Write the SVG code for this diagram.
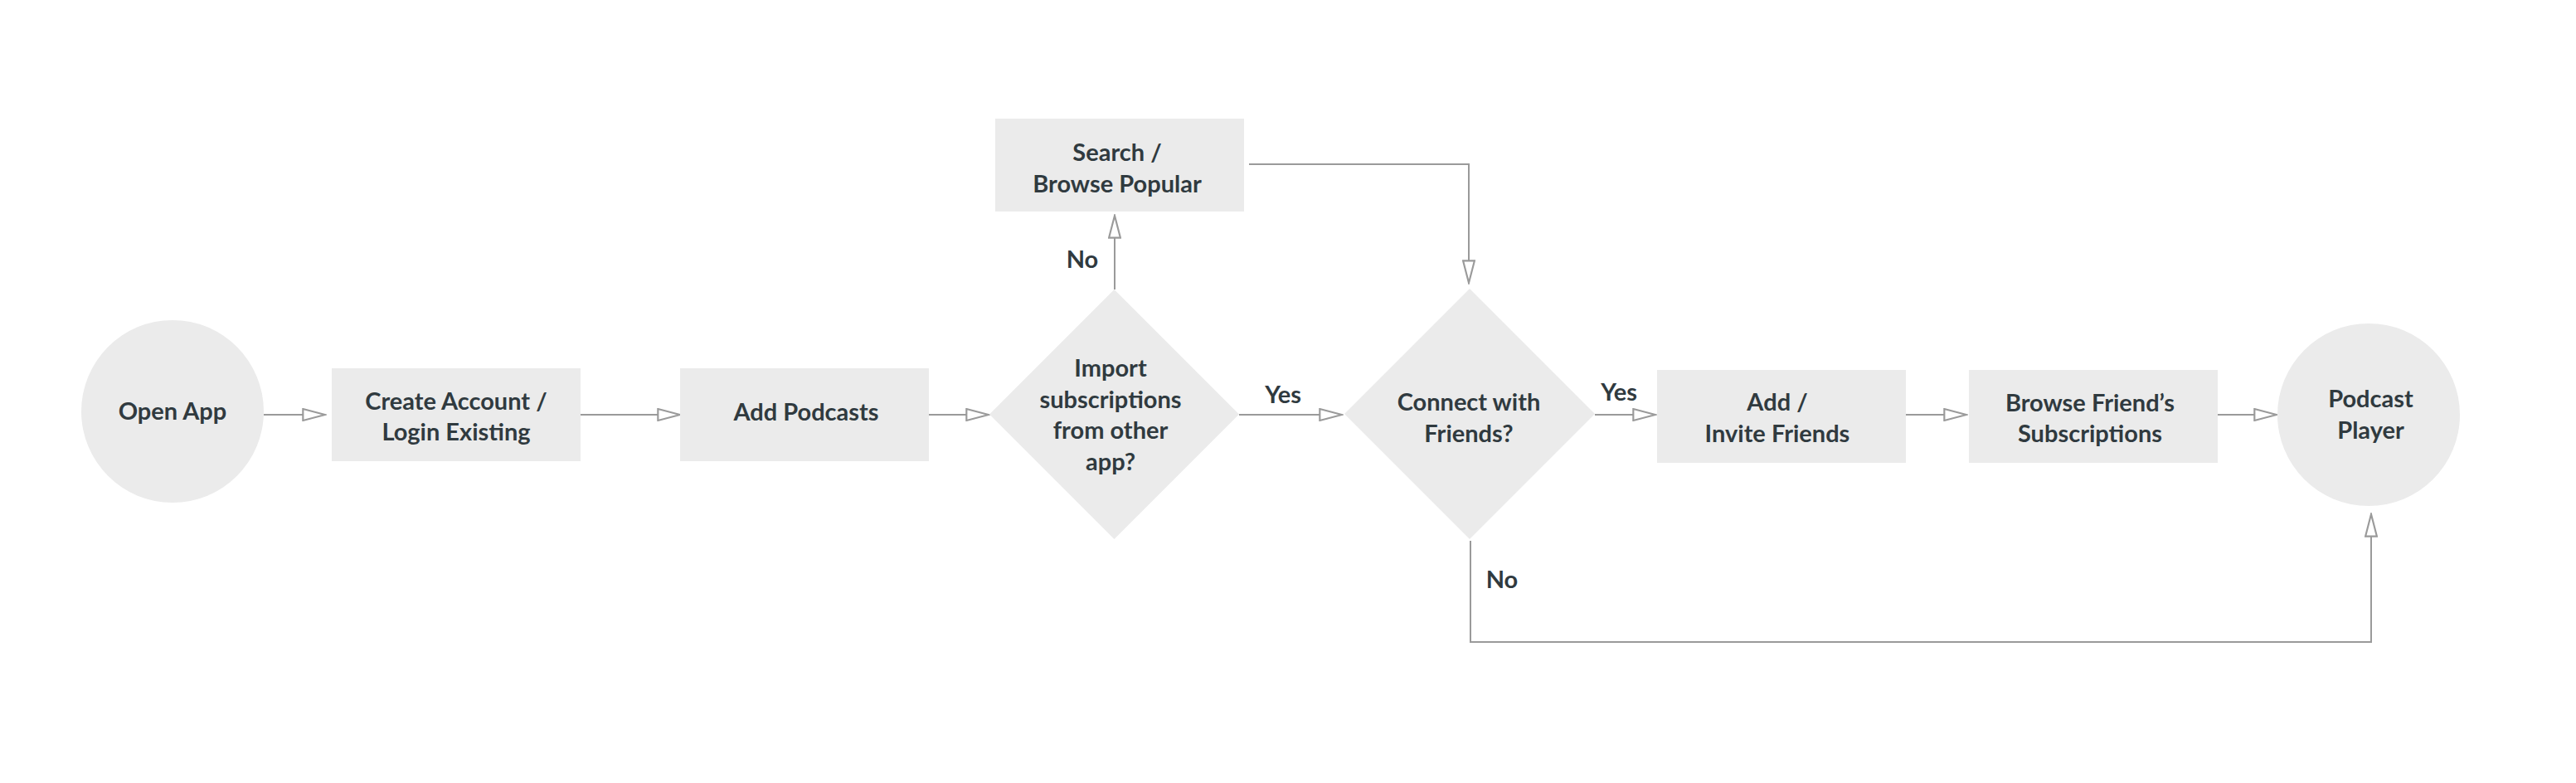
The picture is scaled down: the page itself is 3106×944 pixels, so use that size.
<svg xmlns="http://www.w3.org/2000/svg" width="3106" height="944" viewBox="0 0 3106 944">
<style>
.n{fill:#ebebeb;}
.t{font-family:Lato,"Liberation Sans",sans-serif;font-size:29px;font-weight:bold;fill:#303a3f;text-anchor:middle;}
.c{fill:none;stroke:#9a9a9a;stroke-width:2;}
</style>
<defs>
<marker id="ah" markerUnits="userSpaceOnUse" markerWidth="30" markerHeight="16" refX="25" refY="6.5" orient="auto" viewBox="-1 -1 28 15">
<path d="M0,0 L25,6.5 L0,13 Z" fill="#ffffff" stroke="#9a9a9a" stroke-width="2"/>
</marker>
</defs>
<rect width="3106" height="944" fill="#ffffff"/>
<g id="connectors">
<path class="c" d="M318,500 H392" marker-end="url(#ah)"/>
<path class="c" d="M700,500 H820" marker-end="url(#ah)"/>
<path class="c" d="M1120,500 H1192" marker-end="url(#ah)"/>
<path class="c" d="M1344,349 V260" marker-end="url(#ah)"/>
<path class="c" d="M1506,198 H1771 V341" marker-end="url(#ah)"/>
<path class="c" d="M1494,500 H1618" marker-end="url(#ah)"/>
<path class="c" d="M1923,500 H1996" marker-end="url(#ah)"/>
<path class="c" d="M2298,500 H2371" marker-end="url(#ah)"/>
<path class="c" d="M2674,500 H2745" marker-end="url(#ah)"/>
<path class="c" d="M1773,652 V774 H2859 V620" marker-end="url(#ah)"/>
<text class="t" x="1305" y="323">No</text>
<text class="t" x="1547" y="486">Yes</text>
<text class="t" x="1952" y="483">Yes</text>
<text class="t" x="1811" y="709">No</text>
</g>
<g id="open-app">
<circle class="n" cx="208" cy="496" r="110"/>
<text class="t" x="208" y="505.5">Open App</text>
</g>
<g id="create-account">
<rect class="n" x="400" y="444" width="300" height="112"/>
<text class="t" x="550" y="493.5">Create Account /</text>
<text class="t" x="550" y="531">Login Existing</text>
</g>
<g id="add-podcasts">
<rect class="n" x="820" y="444" width="300" height="112"/>
<text class="t" x="972" y="506.5">Add Podcasts</text>
</g>
<g id="import-decision">
<polygon class="n" points="1343.5,349 1494,499.5 1343.5,650 1193,499.5"/>
<text class="t" x="1339" y="453.5">Import</text>
<text class="t" x="1339" y="491.5">subscriptions</text>
<text class="t" x="1339" y="529">from other</text>
<text class="t" x="1339" y="567">app?</text>
</g>
<g id="search-browse">
<rect class="n" x="1200" y="143" width="300" height="112"/>
<text class="t" x="1347" y="193.5">Search /</text>
<text class="t" x="1347" y="231.5">Browse Popular</text>
</g>
<g id="connect-decision">
<polygon class="n" points="1772,348 1923,499 1772,650 1621,499"/>
<text class="t" x="1771" y="494.5">Connect with</text>
<text class="t" x="1771" y="533">Friends?</text>
</g>
<g id="add-invite">
<rect class="n" x="1998" y="446" width="300" height="112"/>
<text class="t" x="2143" y="495">Add /</text>
<text class="t" x="2143" y="533">Invite Friends</text>
</g>
<g id="browse-friends">
<rect class="n" x="2374" y="446" width="300" height="112"/>
<text class="t" x="2520" y="495.5">Browse Friend’s</text>
<text class="t" x="2520" y="533">Subscriptions</text>
</g>
<g id="podcast-player">
<circle class="n" cx="2856" cy="500" r="110"/>
<text class="t" x="2858.5" y="490.5">Podcast</text>
<text class="t" x="2858.5" y="528.5">Player</text>
</g>
</svg>
